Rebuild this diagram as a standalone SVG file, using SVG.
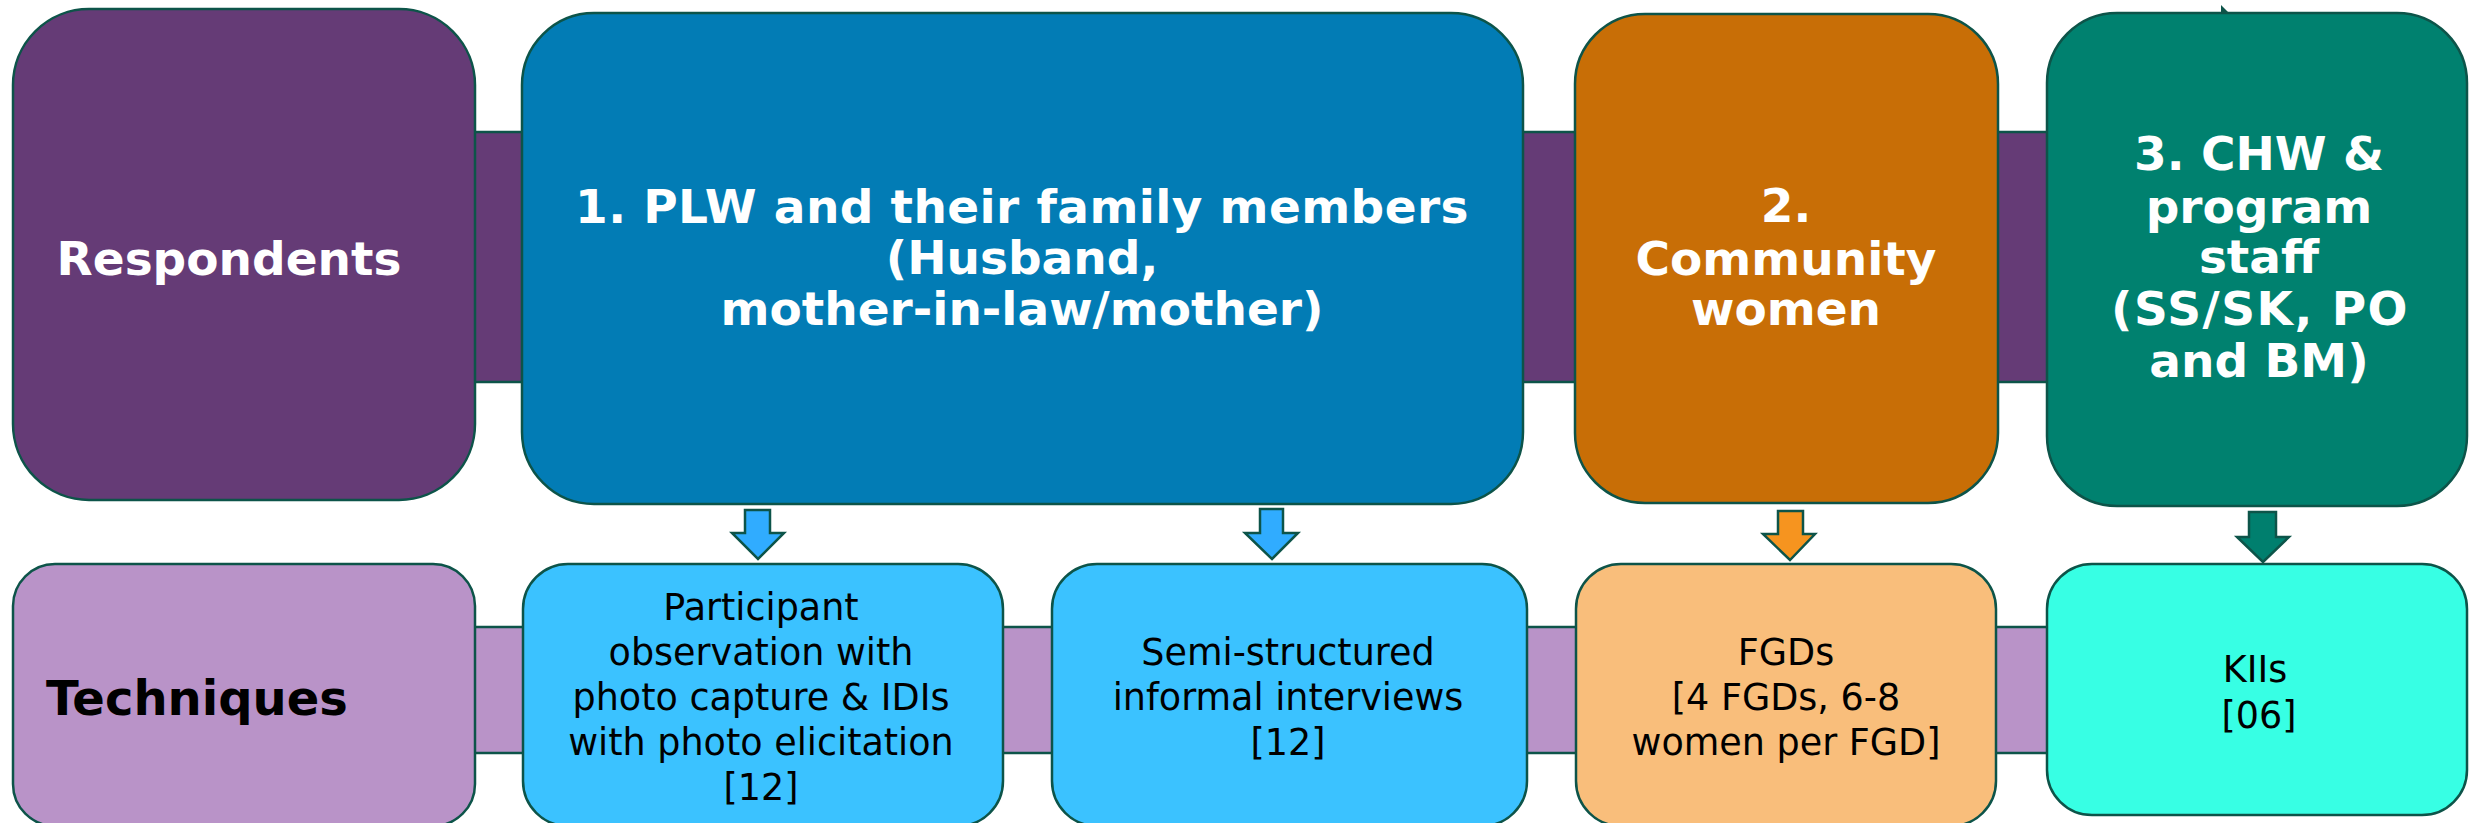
<svg xmlns="http://www.w3.org/2000/svg" width="2469" height="823" viewBox="0 0 2469 823">
<style>
.b{stroke:#0D5449;stroke-width:2.5}
.h{font-family:"DejaVu Sans","Liberation Sans",sans-serif;font-weight:bold;font-size:47px;fill:#FFFFFF;text-anchor:middle}
.t{font-family:"DejaVu Sans","Liberation Sans",sans-serif;font-size:36.5px;fill:#000000;text-anchor:middle}
</style>
<rect width="2469" height="823" fill="#FFFFFF"/>
<g id="bands">
<rect class="b" x="470" y="132" width="1580" height="250" fill="#653B76"/>
<rect class="b" x="470" y="627" width="1580" height="126" fill="#B993C8"/>
</g>
<g id="respondents">
<rect class="b" x="13" y="9" width="462" height="491" rx="76" ry="76" fill="#653B76"/>
<text class="h" x="229" y="275">Respondents</text>
</g>
<g id="plw">
<rect class="b" x="522" y="13" width="1001" height="491" rx="72" ry="72" fill="#027CB5"/>
<text class="h" x="1022" y="223" style="letter-spacing:0.4px">1. PLW and their family members</text>
<text class="h" x="1022" y="274">(Husband,</text>
<text class="h" x="1022" y="325">mother-in-law/mother)</text>
</g>
<g id="community">
<rect class="b" x="1575" y="14" width="423" height="489" rx="70" ry="70" fill="#C86E06"/>
<text class="h" x="1786" y="222">2.</text>
<text class="h" x="1786" y="275">Community</text>
<text class="h" x="1786" y="325">women</text>
</g>
<g id="chw">
<rect class="b" x="2047" y="13" width="420" height="493" rx="70" ry="70" fill="#00816F"/>
<text class="h" x="2259" y="170">3. CHW &amp;</text>
<text class="h" x="2259" y="223">program</text>
<text class="h" x="2259" y="273">staff</text>
<text class="h" x="2260" y="325" style="letter-spacing:1.5px">(SS/SK, PO</text>
<text class="h" x="2259" y="377">and BM)</text>
<polygon points="2221,5 2221,14 2229,13" fill="#0D5449"/>
</g>
<g id="techniques">
<rect class="b" x="13" y="564" width="462" height="262" rx="42" ry="42" fill="#B993C8"/>
<text class="h" x="46" y="715" style="fill:#000000;text-anchor:start;font-size:48px">Techniques</text>
</g>
<g id="participant">
<rect class="b" x="523" y="564" width="480" height="262" rx="45" ry="45" fill="#3BC2FF"/>
<text class="t" x="761" y="620">Participant</text>
<text class="t" x="761" y="665">observation with</text>
<text class="t" x="761" y="710">photo capture &amp; IDIs</text>
<text class="t" x="761" y="755">with photo elicitation</text>
<text class="t" x="761" y="800">[12]</text>
</g>
<g id="semi">
<rect class="b" x="1052" y="564" width="475" height="262" rx="45" ry="45" fill="#3BC2FF"/>
<text class="t" x="1288" y="665">Semi-structured</text>
<text class="t" x="1288" y="710">informal interviews</text>
<text class="t" x="1288" y="755">[12]</text>
</g>
<g id="fgd">
<rect class="b" x="1576" y="564" width="420" height="262" rx="45" ry="45" fill="#F9BE7B"/>
<text class="t" x="1786" y="665">FGDs</text>
<text class="t" x="1786" y="710">[4 FGDs, 6-8</text>
<text class="t" x="1786" y="755">women per FGD]</text>
</g>
<g id="kii">
<rect class="b" x="2047" y="564" width="420" height="251" rx="45" ry="45" fill="#37FFE4"/>
<text class="t" x="2255" y="682">KIIs</text>
<text class="t" x="2259" y="728">[06]</text>
</g>
<g id="connectors" class="b">
<polygon points="745,510 770,510 770,533 784,533 758,559 732,533 745,533" fill="#30ACFF"/>
<polygon points="1260,509 1283,509 1283,533 1298,533 1272,559 1245,533 1260,533" fill="#30ACFF"/>
<polygon points="1778,511 1803,511 1803,534 1815,534 1790,560 1763,534 1778,534" fill="#F6941F"/>
<polygon points="2249,512 2276,512 2276,537 2289,537 2263,562 2237,537 2249,537" fill="#007F6E"/>
</g>
</svg>
